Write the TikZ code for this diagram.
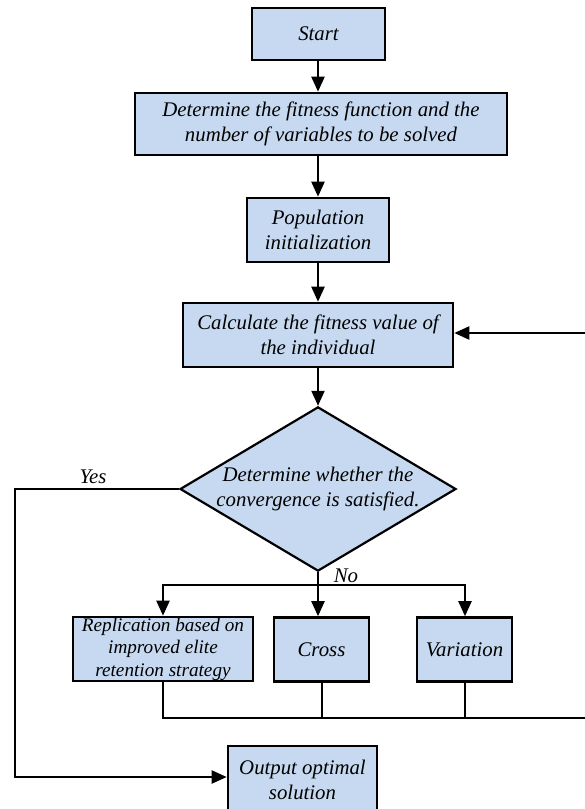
\documentclass[tikz,border=0pt]{standalone}
\usepackage{fontspec}
\setmainfont{Liberation Serif}
\usetikzlibrary{shapes.geometric,arrows.meta}
\definecolor{boxfill}{RGB}{198,217,240}
\begin{document}
\begin{tikzpicture}[x=1pt,y=-1pt,
  font=\fontsize{20.8}{24.5}\selectfont\itshape,
  stepbox/.style={draw=black,fill=boxfill,line width=2.6pt,inner sep=0pt,align=center,minimum width=#1},
  decbox/.style={draw=black,fill=boxfill,line width=2.2pt,diamond,inner sep=0pt,align=center,minimum width=276pt,minimum height=164pt,shape aspect=1.68},
  conn/.style={line width=2.2pt},
  arr/.style={line width=2.2pt,-{Triangle[length=15pt,width=13pt]}},
  lbl/.style={inner sep=0pt}]
\useasboundingbox (0,0) rectangle (585,809);
\node[stepbox=133pt,minimum height=52pt] (start) at (318.5,34) {Start};
\node[stepbox=372pt,minimum height=62pt] (det) at (321,124) {Determine the fitness function and the\\number of variables to be solved};
\node[stepbox=142pt,minimum height=64pt] (pop) at (318,230) {Population\\initialization};
\node[stepbox=270pt,minimum height=64pt] (calc) at (318,335) {Calculate the fitness value of\\the individual};
\node[decbox] (dia) at (318,489) {Determine whether the\\convergence is satisfied.};
\node[stepbox=180pt,minimum height=64pt,font=\fontsize{19.2}{22.5}\selectfont\itshape] (rep) at (163,649) {Replication based on\\improved elite\\retention strategy};
\node[stepbox=95pt,minimum height=64pt] (cross) at (321.5,649.5) {Cross};
\node[stepbox=95pt,minimum height=64pt] (var) at (464.5,649.5) {Variation};
\node[stepbox=149pt,minimum height=68pt] (out) at (302.5,780) {Output optimal\\solution};
\node[lbl] (yes) at (93,477) {Yes};
\node[lbl] (no) at (346,576) {No};
\coordinate (yl) at (15,489);
\coordinate (yb) at (15,777);
\coordinate (j) at (318,585);
\coordinate (jl) at (163,585);
\coordinate (jr) at (465,585);
\coordinate (rb) at (163,718);
\coordinate (re) at (592,718);
\coordinate (rt) at (592,333);
\draw[arr] (start.south -| 318,0) -- (det.north -| 318,0);
\draw[arr] (det.south -| 318,0) -- (pop.north);
\draw[arr] (pop.south) -- (calc.north);
\draw[arr] (calc.south) -- (dia.north);
\draw[arr] (dia.west) -- (yl) -- (yb) -- (out.west |- yb);
\draw[conn] (dia.south) -- (j);
\draw[arr] (j) -- (cross.north -| j);
\draw[arr] (j) -- (jl) -- (rep.north);
\draw[arr] (j) -- (jr) -- (var.north -| jr);
\draw[conn] (rep.south) -- (rb) -- (re);
\draw[conn] (cross.south -| 322,0) -- (rb -| 322,0);
\draw[conn] (var.south -| jr) -- (rb -| jr);
\draw[arr] (re) -- (rt) -- (calc.east |- rt);
\end{tikzpicture}
\end{document}
